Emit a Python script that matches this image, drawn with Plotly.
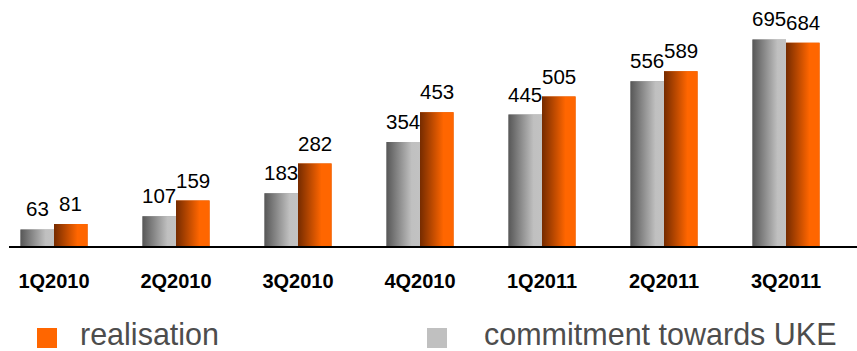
import plotly.graph_objects as go

# Quarterly figures
quarters = ["1Q2010", "2Q2010", "3Q2010", "4Q2010", "1Q2011", "2Q2011", "3Q2011"]
commitment = [63, 107, 183, 354, 445, 556, 695]
realisation = [81, 159, 282, 453, 505, 589, 684]

W, H = 857, 351
ML, MR, MT, MB = 9, 0, 0, 105
PW, PH = W - ML - MR, H - MT - MB

BAR_W = 0.275
X_RANGE = [-0.369, 6.582]
Y_RANGE = [8, 826]

GRAY_SCALE = [[0, "#575757"], [0.75, "#c0c0c0"], [1, "#c2c2c2"]]
ORANGE_SCALE = [[0, "#752b00"], [0.7, "#ff6600"], [1, "#ff6600"]]

LABEL_FONT = "Liberation Sans, Arial, Helvetica, sans-serif"


def px_x(p):
    return (p - ML) / PW


def px_y(p):
    return (MT + PH - p) / PH


fig = go.Figure()

xs = list(range(len(quarters)))

# Solid base bars: commitment to the left of each category, realisation to the right
fig.add_trace(go.Bar(x=xs, y=commitment, width=BAR_W, offset=-BAR_W,
                     marker=dict(color="#9a9a9a", line=dict(width=0)),
                     showlegend=False, hoverinfo="skip"))
fig.add_trace(go.Bar(x=xs, y=realisation, width=BAR_W, offset=0,
                     marker=dict(color="#d65500", line=dict(width=0)),
                     showlegend=False, hoverinfo="skip"))


def gradient_bar(x0, x1, top, scale):
    fig.add_trace(go.Scatter(
        x=[x0, x1, x1, x0, x0], y=[0, 0, top, top, 0],
        mode="lines", line=dict(width=0), fill="toself",
        fillgradient=dict(type="horizontal", colorscale=scale, start=x0, stop=x1),
        showlegend=False, hoverinfo="skip"))


for i, (c, r) in enumerate(zip(commitment, realisation)):
    gradient_bar(i - BAR_W, i, c, GRAY_SCALE)
    gradient_bar(i, i + BAR_W, r, ORANGE_SCALE)

annotations = []
for i, (c, r) in enumerate(zip(commitment, realisation)):
    for xc, v in ((i - BAR_W / 2, c), (i + BAR_W / 2, r)):
        annotations.append(dict(
            x=xc, y=v, xref="x", yref="y", text=str(v), showarrow=False,
            xanchor="center", yanchor="bottom", yshift=7,
            font=dict(family=LABEL_FONT, size=20.5, color="#000000")))

# Legend drawn below the plot
legend_items = [("realisation", "#ff6600", 37, 79), ("commitment towards UKE", "#c0c0c0", 427, 483)]
shapes = []
for text, color, sq_x, tx in legend_items:
    shapes.append(dict(type="rect", xref="paper", yref="paper",
                       x0=px_x(sq_x), x1=px_x(sq_x + 20), y0=px_y(348), y1=px_y(328),
                       fillcolor=color, line=dict(width=0)))
    annotations.append(dict(
        x=px_x(tx), y=px_y(334), xref="paper", yref="paper", text=text,
        showarrow=False, xanchor="left", yanchor="middle", borderpad=0,
        font=dict(family=LABEL_FONT, size=30.5, color="#4d4d4d")))

fig.update_layout(
    width=W, height=H,
    margin=dict(l=ML, r=MR, t=MT, b=MB),
    paper_bgcolor="white", plot_bgcolor="white",
    barmode="overlay",
    showlegend=False,
    xaxis=dict(range=X_RANGE, tickvals=xs, ticktext=quarters, showgrid=False,
               zeroline=False, showline=True, linecolor="#000000", linewidth=2,
               ticks="", ticklabelstandoff=16,
               tickfont=dict(family=LABEL_FONT, size=20, color="#000000", weight="bold")),
    yaxis=dict(range=Y_RANGE, visible=False, showgrid=False, zeroline=False),
    annotations=annotations,
    shapes=shapes,
)

fig.write_html("out.html")
